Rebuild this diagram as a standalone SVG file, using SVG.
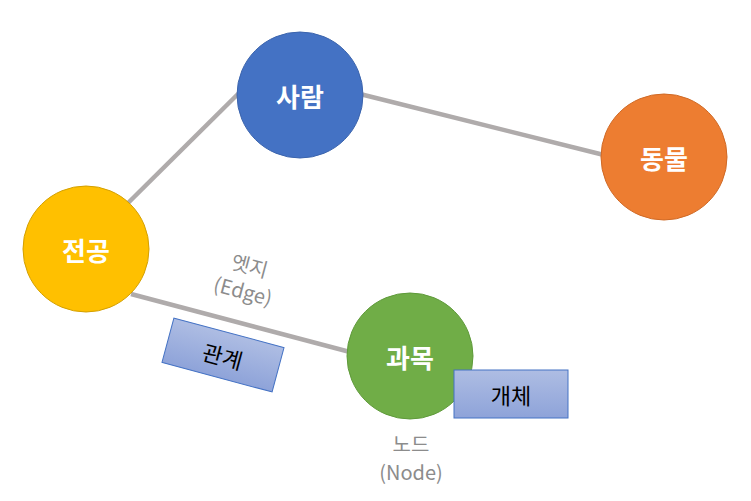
<svg xmlns="http://www.w3.org/2000/svg" width="751" height="501" viewBox="0 0 751 501">
<defs>
<linearGradient id="g" x1="0" y1="0" x2="0" y2="1">
<stop offset="0" stop-color="#aebde3"/>
<stop offset="1" stop-color="#8ea3d9"/>
</linearGradient>
</defs>
<style>
.lbl{font-family:"Noto Sans CJK KR","Noto Sans",sans-serif;font-weight:bold;font-size:26px;fill:#fff;text-anchor:middle;dominant-baseline:central}
.gray{font-family:"Noto Sans CJK KR","Noto Sans",sans-serif;font-size:20px;fill:#8c8c8c;text-anchor:middle}
.box{fill:url(#g);stroke:#4472c4;stroke-width:1}
.btxt{font-family:"Noto Sans CJK KR","Noto Sans",sans-serif;font-size:22px;fill:#000;text-anchor:middle;dominant-baseline:central}
.edge{stroke:#afabab;stroke-width:4.5;fill:none}
</style>
<rect width="751" height="501" fill="#fff"/>
<g id="connectors">
<line class="edge" x1="127" y1="204" x2="240" y2="92"/>
<line class="edge" x1="360" y1="94" x2="604" y2="155"/>
<line class="edge" x1="131" y1="294" x2="350" y2="352"/>
</g>
<g id="node-saram"><circle cx="300" cy="95" r="63" fill="#4472c4" stroke="#3b64ad" stroke-width="1"/><text class="lbl" x="300" y="95">사람</text></g>
<g id="node-dongmul"><circle cx="664" cy="157" r="63" fill="#ed7d31" stroke="#d06a26" stroke-width="1"/><text class="lbl" x="664" y="157">동물</text></g>
<g id="node-jeongong"><circle cx="86" cy="249" r="63" fill="#ffc000" stroke="#d4a000" stroke-width="1"/><text class="lbl" x="86" y="249">전공</text></g>
<g id="node-gwamok"><circle cx="410" cy="356" r="63" fill="#70ad47" stroke="#5f9a3a" stroke-width="1"/><text class="lbl" x="410" y="356">과목</text></g>
<g id="box-gaeche"><rect class="box" x="454" y="370" width="114" height="48"/><text class="btxt" x="511" y="394">개체</text></g>
<g id="box-gwangye" transform="translate(223,355) rotate(15)"><rect class="box" x="-57" y="-23" width="114" height="46"/><text class="btxt" x="0" y="0">관계</text></g>
<g id="label-edge" transform="rotate(15 246 280)"><text class="gray" x="246" y="273">엣지</text><text class="gray" x="246" y="299">(Edge)</text></g>
<g id="label-node"><text class="gray" x="411" y="452">노드</text><text class="gray" x="411" y="480">(Node)</text></g>
</svg>
